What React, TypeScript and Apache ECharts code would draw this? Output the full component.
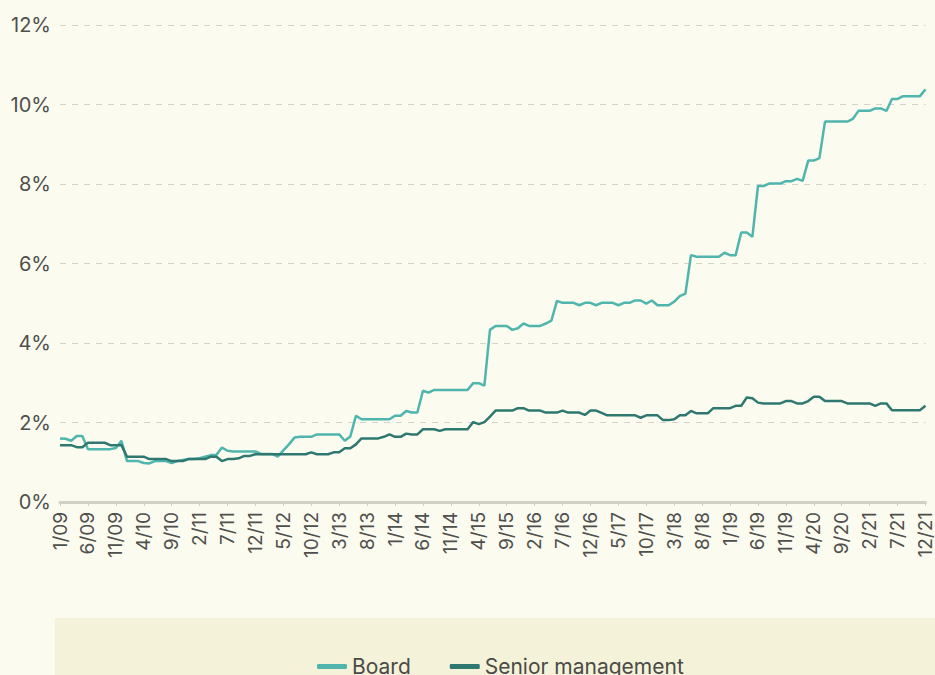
import React, { useEffect, useRef } from "react";
import * as echarts from "echarts";

const startYear = 2009;
const months = Array.from({ length: 156 }, (_, i) => `${(i % 12) + 1}/${String((startYear + Math.floor(i / 12)) % 100).padStart(2, "0")}`);

const board: number[] = [
  1.60, 1.59, 1.54, 1.66, 1.66, 1.33, 1.33, 1.33, 1.33, 1.33,
  1.36, 1.54, 1.03, 1.03, 1.03, 0.98, 0.97, 1.03, 1.03, 1.03,
  0.98, 1.03, 1.06, 1.08, 1.08, 1.10, 1.14, 1.18, 1.18, 1.37,
  1.29, 1.27, 1.27, 1.27, 1.27, 1.27, 1.21, 1.21, 1.21, 1.14,
  1.30, 1.45, 1.62, 1.64, 1.64, 1.64, 1.70, 1.70, 1.70, 1.70,
  1.70, 1.54, 1.65, 2.17, 2.08, 2.08, 2.08, 2.08, 2.08, 2.08,
  2.17, 2.17, 2.29, 2.25, 2.25, 2.80, 2.75, 2.82, 2.82, 2.82,
  2.82, 2.82, 2.82, 2.82, 2.99, 2.99, 2.93, 4.33, 4.43, 4.43,
  4.43, 4.33, 4.37, 4.49, 4.43, 4.43, 4.43, 4.49, 4.56, 5.06,
  5.01, 5.01, 5.01, 4.95, 5.01, 5.01, 4.95, 5.01, 5.01, 5.01,
  4.95, 5.01, 5.01, 5.07, 5.07, 4.99, 5.07, 4.95, 4.95, 4.95,
  5.04, 5.18, 5.24, 6.21, 6.17, 6.17, 6.17, 6.17, 6.17, 6.27,
  6.21, 6.21, 6.78, 6.78, 6.67, 7.95, 7.95, 8.01, 8.01, 8.01,
  8.07, 8.07, 8.13, 8.08, 8.59, 8.59, 8.65, 9.57, 9.57, 9.57,
  9.57, 9.57, 9.64, 9.84, 9.84, 9.84, 9.90, 9.90, 9.84, 10.14,
  10.14, 10.21, 10.21, 10.21, 10.21, 10.38,
];

const seniorManagement: number[] = [
  1.43, 1.43, 1.43, 1.38, 1.38, 1.49, 1.49, 1.49, 1.49, 1.43,
  1.43, 1.43, 1.14, 1.14, 1.14, 1.14, 1.08, 1.08, 1.08, 1.08,
  1.03, 1.03, 1.03, 1.08, 1.08, 1.08, 1.08, 1.14, 1.14, 1.03,
  1.08, 1.08, 1.10, 1.16, 1.16, 1.20, 1.20, 1.20, 1.20, 1.20,
  1.20, 1.20, 1.20, 1.20, 1.20, 1.25, 1.20, 1.20, 1.20, 1.25,
  1.25, 1.35, 1.35, 1.45, 1.60, 1.60, 1.60, 1.60, 1.64, 1.70,
  1.64, 1.64, 1.72, 1.70, 1.70, 1.83, 1.83, 1.83, 1.79, 1.83,
  1.83, 1.83, 1.83, 1.83, 2.01, 1.96, 2.01, 2.15, 2.30, 2.30,
  2.30, 2.30, 2.36, 2.36, 2.30, 2.30, 2.30, 2.25, 2.25, 2.25,
  2.30, 2.25, 2.25, 2.25, 2.19, 2.30, 2.30, 2.24, 2.18, 2.18,
  2.18, 2.18, 2.18, 2.18, 2.12, 2.18, 2.18, 2.18, 2.06, 2.06,
  2.08, 2.18, 2.18, 2.29, 2.23, 2.23, 2.23, 2.36, 2.36, 2.36,
  2.36, 2.42, 2.42, 2.63, 2.61, 2.50, 2.48, 2.48, 2.48, 2.48,
  2.54, 2.54, 2.48, 2.48, 2.54, 2.65, 2.65, 2.54, 2.54, 2.54,
  2.54, 2.48, 2.48, 2.48, 2.48, 2.48, 2.42, 2.48, 2.48, 2.31,
  2.31, 2.31, 2.31, 2.31, 2.31, 2.42,
];

const yTicks = [0, 2, 4, 6, 8, 10, 12];
const seriesNames = ["Board", "Senior management"];
const colors = ["#4fb5ad", "#2f7870"];

export default function App() {
  const ref = useRef<HTMLDivElement>(null);
  useEffect(() => {
    document.body.style.margin = "0";
    const chart = echarts.init(ref.current!, null, { renderer: "svg" });
    chart.setOption({
      animation: false,
      backgroundColor: "#fbfbf0",
      textStyle: { fontFamily: "Inter" },
      graphic: [
        {
          type: "rect",
          shape: { x: 55, y: 618, width: 880, height: 57 },
          style: { fill: "#f4f2d8" },
          z: -1,
        },
      ],
      legend: {
        data: seriesNames,
        left: 312,
        top: 651,
        itemWidth: 30,
        itemHeight: 5,
        itemGap: 39,
        icon: "roundRect",
        textStyle: { fontSize: 21, color: "#4a4a48", fontFamily: "Inter" },
      },
      grid: { left: 60, right: 9, top: 25, bottom: 173, containLabel: false },
      xAxis: {
        type: "category",
        boundaryGap: false,
        data: months,
        axisLine: { lineStyle: { color: "#d3d1c5", width: 3 } },
        axisTick: { interval: 4, length: 4, lineStyle: { color: "#d3d1c5", width: 1 } },
        axisLabel: {
          interval: 4,
          rotate: 90,
          fontSize: 19,
          color: "#4f4f4c",
          margin: 10,
          fontFamily: "Inter",
        },
        splitLine: { show: false },
      },
      yAxis: {
        type: "value",
        min: yTicks[0],
        max: yTicks[yTicks.length - 1],
        interval: 2,
        axisLine: { show: false },
        axisTick: { show: false },
        axisLabel: {
          formatter: (v: number) => `${v}%`,
          fontSize: 20,
          color: "#4f4f4c",
          margin: 9,
          fontFamily: "Inter",
        },
        splitLine: { lineStyle: { color: "#d6d4ca", type: [6, 6], width: 1.2 } },
      },
      series: [
        {
          name: seriesNames[0],
          type: "line",
          data: board,
          symbol: "none",
          lineStyle: { color: colors[0], width: 2.5 },
          itemStyle: { color: colors[0] },
        },
        {
          name: seriesNames[1],
          type: "line",
          data: seniorManagement,
          symbol: "none",
          lineStyle: { color: colors[1], width: 2.5 },
          itemStyle: { color: colors[1] },
        },
      ],
    });
    return () => chart.dispose();
  }, []);
  return <div ref={ref} style={{ width: 935, height: 675 }} />;
}
